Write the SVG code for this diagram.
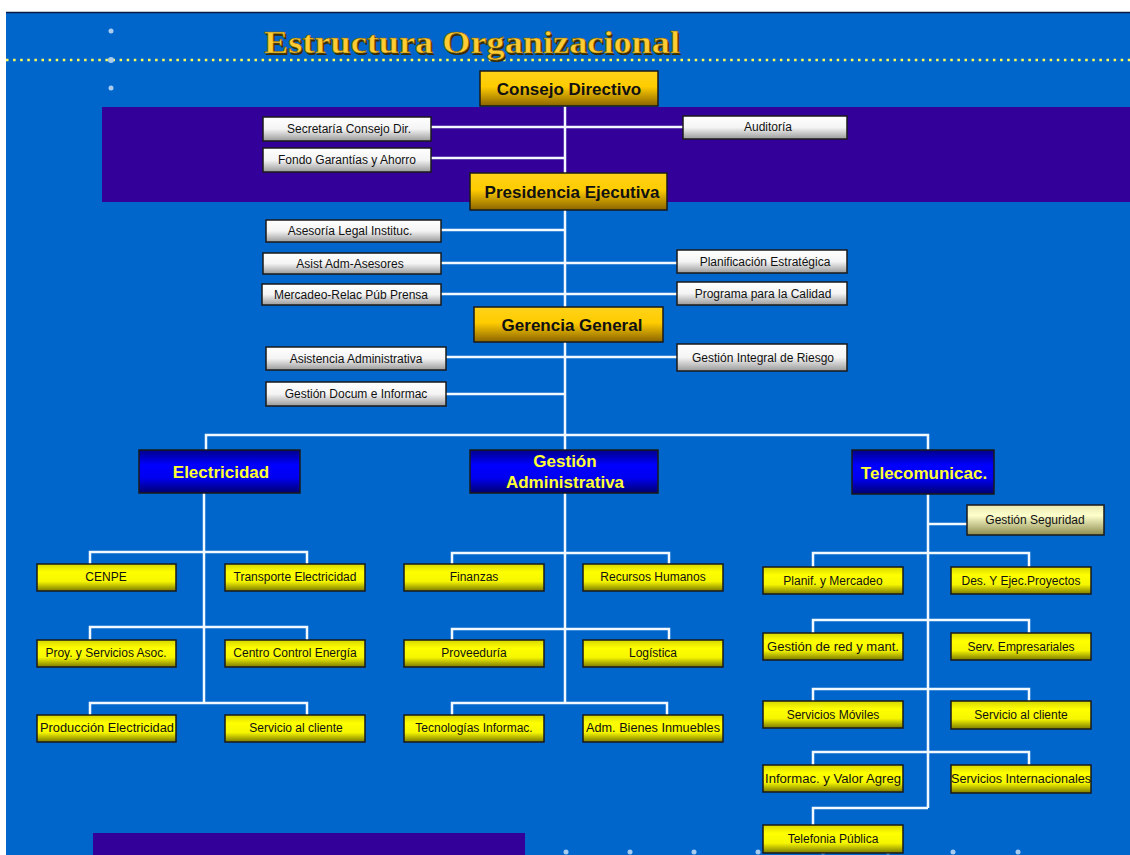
<svg xmlns="http://www.w3.org/2000/svg" width="1130" height="855" viewBox="0 0 1130 855">
<style>
.bx{stroke:#1a1a1a;stroke-width:1.5}
.t{font-family:"Liberation Sans",Arial,sans-serif;font-size:12px;fill:#111;text-anchor:middle}
.big{font-family:"Liberation Sans",Arial,sans-serif;font-size:17px;font-weight:bold;fill:#111;text-anchor:middle}
.bl{font-family:"Liberation Sans",Arial,sans-serif;font-size:17px;font-weight:bold;fill:#ffff33;text-anchor:middle}
.ln{fill:none;stroke:#f2f8ff;stroke-width:2.5}
.dot{fill:#a8cbee}
</style>
<defs>
<linearGradient id="gold" x1="0" y1="0" x2="0" y2="1">
<stop offset="0" stop-color="#ffd21a"/><stop offset="0.45" stop-color="#ffcc00"/><stop offset="1" stop-color="#8a6400"/>
</linearGradient>
<linearGradient id="wht" x1="0" y1="0" x2="0" y2="1">
<stop offset="0" stop-color="#ffffff"/><stop offset="0.5" stop-color="#f4f4f4"/><stop offset="1" stop-color="#9a9a9a"/>
</linearGradient>
<linearGradient id="yel" x1="0" y1="0" x2="0" y2="1">
<stop offset="0" stop-color="#d6d600"/><stop offset="0.3" stop-color="#ffff00"/><stop offset="0.65" stop-color="#f5f500"/><stop offset="1" stop-color="#7a7a00"/>
</linearGradient>
<linearGradient id="pale" x1="0" y1="0" x2="0" y2="1">
<stop offset="0" stop-color="#e8e8b0"/><stop offset="0.35" stop-color="#ffffcc"/><stop offset="1" stop-color="#8c8c50"/>
</linearGradient>
<linearGradient id="blu" x1="0" y1="0" x2="0" y2="1">
<stop offset="0" stop-color="#00008a"/><stop offset="0.35" stop-color="#0000ff"/><stop offset="0.65" stop-color="#0000f0"/><stop offset="1" stop-color="#000070"/>
</linearGradient>
</defs>
<rect x="0" y="0" width="1130" height="855" fill="#ffffff"/>
<rect x="6" y="12" width="1124" height="843" fill="#0066cc"/>
<line x1="6" y1="12.5" x2="1130" y2="12.5" stroke="#0a1a40" stroke-width="1.5"/>
<rect x="102" y="107" width="1028" height="95" fill="#330099"/>
<rect x="93" y="833" width="432" height="22" fill="#330099"/>
<line x1="6" y1="60" x2="1130" y2="60" stroke="#ffff55" stroke-width="2.5" stroke-dasharray="2.5 4.6"/>
<g id="decor">
<circle class="dot" cx="111" cy="31" r="2.5"/><circle class="dot" cx="111" cy="60" r="3"/><circle class="dot" cx="111" cy="88" r="2.5"/>
<circle class="dot" cx="566" cy="852" r="2.5"/><circle class="dot" cx="630" cy="852" r="2.5"/><circle class="dot" cx="694" cy="852" r="2.5"/><circle class="dot" cx="758" cy="852" r="2.5"/><circle class="dot" cx="823" cy="852" r="2.5"/><circle class="dot" cx="888" cy="852" r="2.5"/><circle class="dot" cx="953" cy="852" r="2.5"/><circle class="dot" cx="1018" cy="852" r="2.5"/>
</g>
<g id="title">
<text x="472" y="53" font-family="'Liberation Serif','Times New Roman',serif" font-size="31" font-weight="bold" fill="#3a2a00" text-anchor="middle" textLength="416" lengthAdjust="spacingAndGlyphs" transform="translate(1.5,1.5)">Estructura Organizacional</text>
<text x="472" y="53" font-family="'Liberation Serif','Times New Roman',serif" font-size="31" font-weight="bold" fill="#ffcc33" stroke="#7a5a00" stroke-width="0.6" text-anchor="middle" textLength="416" lengthAdjust="spacingAndGlyphs">Estructura Organizacional</text>
</g>
<g id="connectors">
<path class="ln" d="M565,106 V450"/>
<path class="ln" d="M431,127 H683"/>
<path class="ln" d="M431,158 H565"/>
<path class="ln" d="M441,230 H565"/>
<path class="ln" d="M441,263 H677"/>
<path class="ln" d="M441,294 H677"/>
<path class="ln" d="M446,357 H677"/>
<path class="ln" d="M446,394 H565"/>
<path class="ln" d="M206,450 V435 H928 V450"/>
<path class="ln" d="M204,493 V703"/>
<path class="ln" d="M90,564 V552 H307 V564"/>
<path class="ln" d="M90,640 V627 H307 V640"/>
<path class="ln" d="M90,715 V703 H307 V715"/>
<path class="ln" d="M565,493 V703"/>
<path class="ln" d="M452,564 V553 H669 V564"/>
<path class="ln" d="M452,640 V629 H669 V640"/>
<path class="ln" d="M452,715 V703 H667 V715"/>
<path class="ln" d="M928,494 V808"/>
<path class="ln" d="M928,524 H967"/>
<path class="ln" d="M813,567 V553 H1029 V567"/>
<path class="ln" d="M813,633 V620 H1029 V633"/>
<path class="ln" d="M813,701 V689 H1029 V701"/>
<path class="ln" d="M813,765 V752 H1029 V765"/>
<path class="ln" d="M928,808 H813 V825"/>
</g>
<g id="consejo"><rect class="bx" x="480" y="71" width="178" height="35" fill="url(#gold)"/><text class="big" x="569" y="95">Consejo Directivo</text></g>
<g id="presidencia"><rect class="bx" x="470" y="173" width="197" height="37" fill="url(#gold)"/><text class="big" x="572" y="198">Presidencia Ejecutiva</text></g>
<g id="gerencia"><rect class="bx" x="474" y="307" width="189" height="35" fill="url(#gold)"/><text class="big" x="572" y="331">Gerencia General</text></g>

<g id="secretaria"><rect class="bx" x="263" y="117" width="168" height="24" fill="url(#wht)"/><text class="t" x="349" y="133">Secretaría Consejo Dir.</text></g>
<g id="fondo"><rect class="bx" x="263" y="148" width="168" height="24" fill="url(#wht)"/><text class="t" x="347" y="164">Fondo Garantías y Ahorro</text></g>
<g id="auditoria"><rect class="bx" x="683" y="116" width="164" height="23" fill="url(#wht)"/><text class="t" x="768" y="131">Auditoría</text></g>
<g id="asesoria"><rect class="bx" x="266" y="220" width="175" height="22" fill="url(#wht)"/><text class="t" x="350" y="235">Asesoría Legal Instituc.</text></g>
<g id="asist"><rect class="bx" x="263" y="253" width="178" height="21" fill="url(#wht)"/><text class="t" x="350" y="268">Asist Adm-Asesores</text></g>
<g id="mercadeo"><rect class="bx" x="262" y="284" width="179" height="21" fill="url(#wht)"/><text class="t" x="351" y="299">Mercadeo-Relac Púb Prensa</text></g>
<g id="planificacion"><rect class="bx" x="677" y="250" width="170" height="23" fill="url(#wht)"/><text class="t" x="765" y="266">Planificación Estratégica</text></g>
<g id="programa"><rect class="bx" x="677" y="282" width="170" height="23" fill="url(#wht)"/><text class="t" x="763" y="298">Programa para la Calidad</text></g>
<g id="asistencia"><rect class="bx" x="266" y="347" width="180" height="23" fill="url(#wht)"/><text class="t" x="356" y="363">Asistencia Administrativa</text></g>
<g id="riesgo"><rect class="bx" x="677" y="344" width="170" height="27" fill="url(#wht)"/><text class="t" x="763" y="362">Gestión  Integral de Riesgo</text></g>
<g id="documentacion"><rect class="bx" x="266" y="382" width="180" height="24" fill="url(#wht)"/><text class="t" x="356" y="398">Gestión Docum e Informac</text></g>

<g id="electricidad"><rect class="bx" x="139" y="450" width="161" height="43" fill="url(#blu)"/><text class="bl" x="221" y="478">Electricidad</text></g>
<g id="gestionadm"><rect class="bx" x="470" y="450" width="188" height="43" fill="url(#blu)"/><text class="bl" x="565" y="467" font-size="16">Gestión</text><text class="bl" x="565" y="488" font-size="16">Administrativa</text></g>
<g id="telecom"><rect class="bx" x="852" y="450" width="142" height="44" fill="url(#blu)"/><text class="bl" x="924" y="479">Telecomunicac.</text></g>

<g id="cenpe"><rect class="bx" x="37" y="564" width="139" height="27" fill="url(#yel)"/><text class="t" x="106" y="581">CENPE</text></g>
<g id="transporte"><rect class="bx" x="225" y="564" width="140" height="27" fill="url(#yel)"/><text class="t" x="295" y="581">Transporte Electricidad</text></g>
<g id="proy"><rect class="bx" x="37" y="640" width="139" height="27" fill="url(#yel)"/><text class="t" x="106" y="657">Proy. y Servicios Asoc.</text></g>
<g id="centro"><rect class="bx" x="225" y="640" width="140" height="27" fill="url(#yel)"/><text class="t" x="295" y="657">Centro Control Energía</text></g>
<g id="produccion"><rect class="bx" x="37" y="715" width="139" height="27" fill="url(#yel)"/><text class="t" x="107" y="732" textLength="134" lengthAdjust="spacingAndGlyphs">Producción Electricidad</text></g>
<g id="servicioe"><rect class="bx" x="225" y="715" width="140" height="27" fill="url(#yel)"/><text class="t" x="296" y="732">Servicio al cliente</text></g>

<g id="finanzas"><rect class="bx" x="404" y="564" width="140" height="27" fill="url(#yel)"/><text class="t" x="474" y="581">Finanzas</text></g>
<g id="rrhh"><rect class="bx" x="583" y="564" width="140" height="27" fill="url(#yel)"/><text class="t" x="653" y="581">Recursos Humanos</text></g>
<g id="proveeduria"><rect class="bx" x="404" y="640" width="140" height="27" fill="url(#yel)"/><text class="t" x="474" y="657">Proveeduría</text></g>
<g id="logistica"><rect class="bx" x="583" y="640" width="140" height="27" fill="url(#yel)"/><text class="t" x="653" y="657">Logística</text></g>
<g id="tecnologias"><rect class="bx" x="404" y="715" width="140" height="27" fill="url(#yel)"/><text class="t" x="474" y="732">Tecnologías Informac.</text></g>
<g id="bienes"><rect class="bx" x="583" y="715" width="140" height="27" fill="url(#yel)"/><text class="t" x="653" y="732" textLength="134" lengthAdjust="spacingAndGlyphs">Adm. Bienes Inmuebles</text></g>

<g id="seguridad"><rect class="bx" x="967" y="505" width="137" height="30" fill="url(#pale)"/><text class="t" x="1035" y="524">Gestión Seguridad</text></g>
<g id="planif"><rect class="bx" x="763" y="567" width="140" height="27" fill="url(#yel)"/><text class="t" x="833" y="585">Planif. y Mercadeo</text></g>
<g id="des"><rect class="bx" x="951" y="567" width="140" height="27" fill="url(#yel)"/><text class="t" x="1021" y="585">Des. Y Ejec.Proyectos</text></g>
<g id="gestionred"><rect class="bx" x="763" y="633" width="140" height="27" fill="url(#yel)"/><text class="t" x="833" y="651" textLength="132" lengthAdjust="spacingAndGlyphs">Gestión de red y mant.</text></g>
<g id="empresariales"><rect class="bx" x="951" y="633" width="140" height="27" fill="url(#yel)"/><text class="t" x="1021" y="651">Serv. Empresariales</text></g>
<g id="moviles"><rect class="bx" x="763" y="701" width="140" height="27" fill="url(#yel)"/><text class="t" x="833" y="719">Servicios Móviles</text></g>
<g id="serviciot"><rect class="bx" x="951" y="701" width="140" height="28" fill="url(#yel)"/><text class="t" x="1021" y="719">Servicio al cliente</text></g>
<g id="informac"><rect class="bx" x="763" y="765" width="140" height="27" fill="url(#yel)"/><text class="t" x="833" y="783" textLength="136" lengthAdjust="spacingAndGlyphs">Informac. y Valor Agreg</text></g>
<g id="internacionales"><rect class="bx" x="951" y="765" width="140" height="28" fill="url(#yel)"/><text class="t" x="1021" y="783" textLength="140" lengthAdjust="spacingAndGlyphs">Servicios Internacionales</text></g>
<g id="telefonia"><rect class="bx" x="763" y="825" width="140" height="28" fill="url(#yel)"/><text class="t" x="833" y="843">Telefonia Pública</text></g>
</svg>
